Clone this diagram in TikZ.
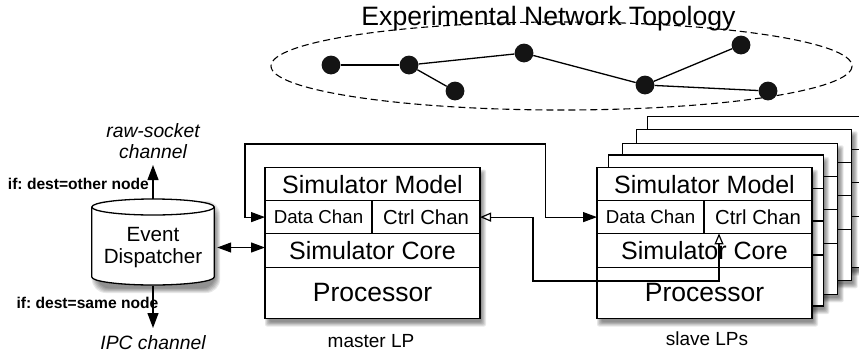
\documentclass[tikz,border=0pt]{standalone}
\usepackage{fontspec}
\setmainfont{Liberation Sans}
\frenchspacing
\usetikzlibrary{arrows.meta,calc}
\newcommand\softshadow[5][2pt]{%
  \foreach \k in {0,1,2,3,4,5}{%
    \fill[black,opacity=0.09,rounded corners=#1]
      ({#2+3-3+\k*0.9},{#3+5-3+\k*0.9}) rectangle ({#4+3+3-\k*0.9},{#5+5+3-\k*0.9});}}
\newcommand\lpbox[3]{%
  \softshadow{#2}{#3}{#2+215}{#3+151}
  \node[cell,minimum width=215pt,minimum height=33.3pt] (#1model) at ({#2},{#3}) {Simulator Model};
  \node[cell,datafont,minimum width=107pt,minimum height=32.6pt] (#1data) at ({#2},{#3+33.3}) {Data Chan};
  \node[cell,ctrlfont,minimum width=108pt,minimum height=32.6pt] (#1ctrl) at ({#2+107},{#3+33.3}) {Ctrl Chan};
  \node[cell,minimum width=215pt,minimum height=34pt] (#1core) at ({#2},{#3+65.9}) {Simulator Core};
  \node[cell,procfont,minimum width=215pt,minimum height=51.1pt] (#1proc) at ({#2},{#3+99.9}) {Processor};}
\newcommand\backbox[2]{%
  \softshadow{#1}{#2}{#1+215}{#2+151}
  \draw[boxline,fill=white] ({#1},{#2}) rectangle ++(215,151);
  \draw[boxline] ({#1},{#2+33.3}) -- ++(215,0);
  \draw[boxline] ({#1},{#2+65.9}) -- ++(215,0);
  \draw[boxline] ({#1},{#2+99.9}) -- ++(215,0);}
\begin{document}
\begin{tikzpicture}[x=1pt,y=-1pt,
  boxline/.style={line width=1.3pt},
  cell/.style={draw,fill=white,line width=1.3pt,inner sep=0pt,outer sep=0pt,anchor=north west,
    font=\fontsize{25}{30}\selectfont},
  datafont/.style={font=\fontsize{18.7}{22}\selectfont},
  ctrlfont/.style={font=\fontsize{20.3}{24}\selectfont},
  procfont/.style={font=\fontsize{26.5}{31}\selectfont},
  dot/.style={circle,fill=black!92,inner sep=0pt,minimum size=18.8pt},
  edge/.style={line width=1.3pt},
  conn/.style={line width=1.2pt},
  fa/.style={conn,{Triangle[length=14pt,width=10pt]}-{Triangle[length=14pt,width=10pt]}},
  oa/.style={conn,{Triangle[open,length=11pt,width=9pt]}-{Triangle[open,length=11pt,width=9pt]}},
  va/.style={conn,-{Triangle[length=15pt,width=11pt]}},
  lbl/.style={inner sep=0pt,font=\fontsize{19}{22}\selectfont},
  ilbl/.style={inner sep=0pt,align=center,font=\fontsize{19.3}{21.7}\selectfont\itshape},
  blbl/.style={inner sep=0pt,anchor=east,font=\fontsize{15.6}{18}\selectfont\bfseries}]
\useasboundingbox (0,0) rectangle (859,354);

% network topology
\draw[line width=1.1pt,dash pattern=on 7pt off 4pt] (561.5,66) ellipse [x radius=290.5,y radius=44];
\node[anchor=base,inner sep=0pt,font=\fontsize{26.6}{30}\selectfont] (title) at (548.5,25) {Experimental Network Topology};
\node[dot] (n1) at (331,65) {};
\node[dot] (n2) at (409,65) {};
\node[dot] (n3) at (455,91) {};
\node[dot] (n4) at (524,53) {};
\node[dot] (n5) at (645,85) {};
\node[dot] (n6) at (741,45) {};
\node[dot] (n7) at (768,91) {};
\draw[edge] (n1) -- (n2);
\draw[edge] (n2) -- (n3);
\draw[edge] (n2) -- (n4);
\draw[edge] (n4) -- (n5);
\draw[edge] (n5) -- (n6);
\draw[edge] (n5) -- (n7);

% event dispatcher (cylinder)
\softshadow[14pt]{91.8}{199}{214.2}{285}
\draw[boxline,fill=white] (91.8,207) -- (91.8,277) arc[start angle=180,end angle=0,x radius=61.2,y radius=8]
  -- (214.2,207) arc[start angle=0,end angle=-180,x radius=61.2,y radius=8] -- cycle;
\draw[boxline] (91.8,207) arc[start angle=180,end angle=0,x radius=61.2,y radius=8];
\node[inner sep=0pt,align=center,minimum width=122.4pt,minimum height=76pt,
  font=\fontsize{20.6}{21.6}\selectfont] (disp) at (153,247.5) {Event\\Dispatcher};
\coordinate (dtop) at (153,199);
\coordinate (utip) at (153,165);
\coordinate (dtip) at (153,328);
\node[ilbl] (raw) at (153,141) {raw-socket\\channel};
\node[ilbl] (ipc) at (153,343) {IPC channel};
\node[blbl] (other) at (149,184) {if: dest=other node};
\node[blbl] (same) at (158.5,303) {if: dest=same node};

% master LP
\lpbox{m}{265}{167.5}
\node[lbl] (mlabel) at (371,341.5) {master LP};

% slave LPs
\backbox{647.7}{116.5}
\backbox{636.7}{129.3}
\backbox{622.7}{143.3}
\backbox{608.3}{155}
\lpbox{s}{597}{167.5}
\node[lbl] (slabel) at (707,339) {slave LPs};

% connectors
\draw[va] (dtop) -- (utip);
\draw[va] (disp.south) -- (dtip);
\draw[fa,shorten <=2.8pt] (disp.east) -- (disp.east -| mcore.west);
\coordinate (dl) at (245,144);
\coordinate (dr) at (545.5,144);
\draw[fa] (mdata.west) -| (dl) -- (dr) |- (sdata.west);
\coordinate (cl) at (533,281);
\coordinate (cr) at (719,281);
\draw[oa] (mctrl.east) -| (cl) -- (cr) -- (cr |- sctrl.south);
\end{tikzpicture}
\end{document}
